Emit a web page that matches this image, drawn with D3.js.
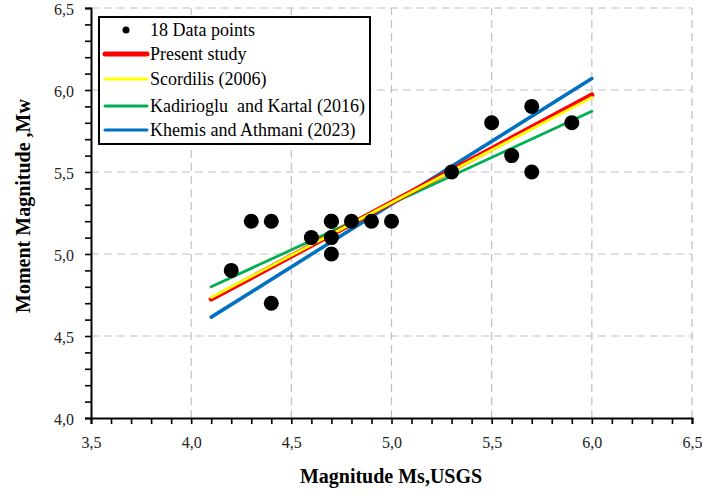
<!DOCTYPE html>
<html><head><meta charset="utf-8">
<script src="https://cdn.jsdelivr.net/npm/d3@7"></script>
<style>body{margin:0;background:#fff}svg{display:block}text{font-family:"Liberation Serif","DejaVu Serif",serif}</style>
</head><body><svg id="c" width="702" height="495"></svg>
<script>
const msValues = [4.2,4.3,4.4,4.4,4.6,4.7,4.7,4.7,4.7,4.8,4.9,5.0,5.3,5.5,5.6,5.7,5.7,5.9];
const mwValues = [4.9,5.2,5.2,4.7,5.1,5.2,5.2,5.1,5.0,5.2,5.2,5.2,5.5,5.8,5.6,5.9,5.5,5.8];
const lineNames = ["Present study","Scordilis (2006)","Kadirioglu  and Kartal (2016)","Khemis and Athmani (2023)"];
const lineX = [4.1, 6.0];
const lineStart = [4.725, 4.735, 4.80, 4.615];
const lineEnd = [5.97, 5.955, 5.87, 6.07];
const lineColors = ["#ff0000","#ffff00","#00b050","#0070c0"];
const xTicks = [3.5,4.0,4.5,5.0,5.5,6.0,6.5];
const yTicks = [4.0,4.5,5.0,5.5,6.0,6.5];

const FONT = '"Liberation Serif","DejaVu Serif",serif';
const svg = d3.select("#c");
const x = d3.scaleLinear().domain([3.5,6.5]).range([91,692]);
const y = d3.scaleLinear().domain([4.0,6.5]).range([418,8]);
const fmt = d => d.toFixed(1).replace(".",",");
const isMajor = d => Math.abs(d*2-Math.round(d*2))<1e-6;

// grid
const g = svg.append("g");
g.selectAll(".gx").data(xTicks.slice(1)).join("line")
  .attr("x1",d=>x(d)).attr("x2",d=>x(d)).attr("y1",y(4)).attr("y2",y(6.5))
  .attr("stroke","#c0c0c0").attr("stroke-width",1.2).attr("stroke-dasharray","8,5");
g.selectAll(".gy").data(yTicks.slice(1)).join("line")
  .attr("x1",x(3.5)).attr("x2",x(6.5)).attr("y1",d=>y(d)).attr("y2",d=>y(d))
  .attr("stroke","#c0c0c0").attr("stroke-width",1.2).attr("stroke-dasharray","8,5");

// axes
const xAxis = d3.axisBottom(x).tickValues(d3.range(35,66).map(v=>v/10)).tickSize(6)
  .tickFormat(d => isMajor(d) ? fmt(d) : "");
const xa = svg.append("g").attr("transform",`translate(0,${y(4)})`).call(xAxis);
const yAxis = d3.axisLeft(y).tickValues(d3.range(40,66).map(v=>v/10)).tickSize(6)
  .tickFormat(d => isMajor(d) ? fmt(d) : "");
const ya = svg.append("g").attr("transform",`translate(${x(3.5)},0)`).call(yAxis);
[xa,ya].forEach(a=>{
  a.attr("font-family",FONT);
  a.select(".domain").attr("stroke","#000").attr("stroke-width",2);
  a.selectAll(".tick line").attr("stroke","#000").attr("stroke-width",1.6);
  a.selectAll("text").attr("font-family",FONT).attr("font-size",16).attr("fill","#222");
});
xa.selectAll("text").attr("y",30).attr("dy",0);
ya.selectAll("text").attr("x",-17).attr("dy","0.42em");

// lines
const lineGen = d3.line().x(d=>x(d[0])).y(d=>y(d[1]));
const widths = [5,2.8,2.8,3.6];
const order = [3,2,0,1];
order.forEach(i=>{
  svg.append("path").attr("d",lineGen([[lineX[0],lineStart[i]],[lineX[1],lineEnd[i]]]))
    .attr("stroke",lineColors[i]).attr("stroke-width",widths[i]).attr("fill","none").attr("stroke-linecap","round");
});

// points
svg.append("g").selectAll("circle").data(msValues.map((m,i)=>[m,mwValues[i]])).join("circle")
  .attr("cx",d=>x(d[0])).attr("cy",d=>y(d[1])).attr("r",7.5).attr("fill","#000");

// legend
const lg = svg.append("g");
lg.append("rect").attr("x",99).attr("y",17).attr("width",271).attr("height",127)
  .attr("fill","#fff").attr("stroke","#000").attr("stroke-width",2);
const rows = [30,54,79,106,130];
lg.append("circle").attr("cx",126).attr("cy",rows[0]).attr("r",3.5).attr("fill","#000");
lg.append("text").attr("x",150).attr("y",rows[0]+6).attr("font-size",18).text("18 Data points");
lineNames.forEach((n,i)=>{
  lg.append("line").attr("x1",105).attr("x2",147).attr("y1",rows[i+1]).attr("y2",rows[i+1])
    .attr("stroke",lineColors[i]).attr("stroke-width",i===0?5:3).attr("stroke-linecap","round");
  lg.append("text").attr("x",150).attr("y",rows[i+1]+6).attr("font-size",18)
    .style("white-space","pre").text(n);
});

// titles
svg.append("text").attr("x",391).attr("y",483).attr("text-anchor","middle")
  .attr("font-size",20).attr("font-weight","bold").text("Magnitude Ms,USGS");
svg.append("text").attr("transform","translate(30,206) rotate(-90)").attr("text-anchor","middle")
  .attr("font-size",20).attr("font-weight","bold").text("Moment Magnitude ,Mw");
</script></body></html>
